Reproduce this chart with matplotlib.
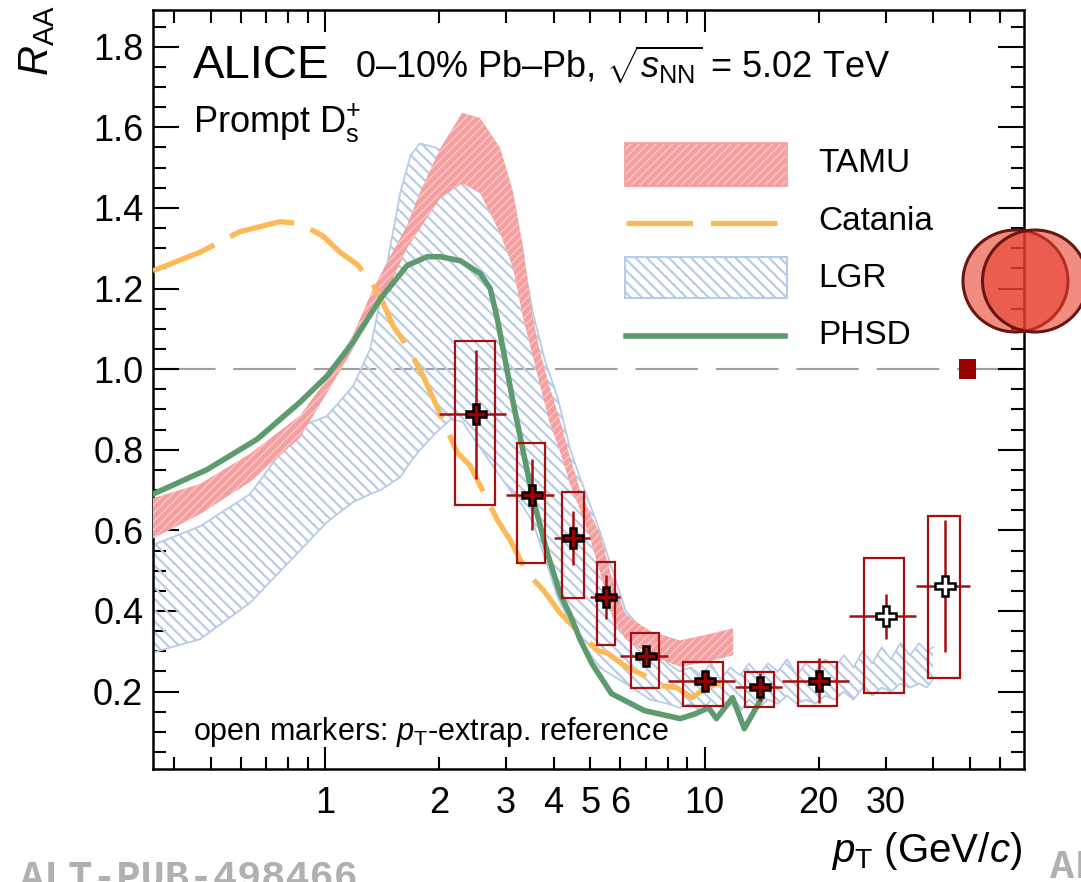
import matplotlib
matplotlib.use('Agg')
import matplotlib.pyplot as plt
from matplotlib.patches import Rectangle, Ellipse
from matplotlib.ticker import FixedLocator, FuncFormatter, MultipleLocator

plt.rcParams['font.family'] = ['Liberation Sans', 'DejaVu Sans']
plt.rcParams['mathtext.fontset'] = 'custom'
plt.rcParams['mathtext.rm'] = 'Liberation Sans'
plt.rcParams['mathtext.it'] = 'Liberation Sans:italic'
plt.rcParams['mathtext.bf'] = 'Liberation Sans:bold'

# ---- measured D_s+ R_AA, 0-10% Pb-Pb ----
pt_lo = [2, 3, 4, 5, 6, 8, 12, 16, 24, 36]
pt_hi = [3, 4, 5, 6, 8, 12, 16, 24, 36, 50]
pt_c = [2.5, 3.5, 4.5, 5.5, 7, 10, 14, 20, 30, 43]
raa = [0.888, 0.688, 0.581, 0.434, 0.289, 0.227, 0.212, 0.227, 0.387, 0.462]
raa_stat = [0.16, 0.088, 0.066, 0.055, 0.025, 0.02, 0.035, 0.056, 0.056, 0.164]
syst_up = [0.183, 0.129, 0.114, 0.087, 0.057, 0.047, 0.037, 0.047, 0.144, 0.174]
syst_dn = [0.226, 0.168, 0.149, 0.119, 0.079, 0.062, 0.049, 0.062, 0.191, 0.228]
extrap_ref = [False] * 8 + [True] * 2
norm_unc = 0.024

# ---- model curves ----
tamu_pt = [0.352, 0.468, 0.634, 0.859, 1.01, 1.185, 1.339, 1.484, 1.645, 1.781, 2.012,
           2.299, 2.564, 2.896, 3.13, 3.33, 3.53, 3.69, 3.9, 4.17, 4.44, 4.7, 4.94,
           5.29, 5.75, 6.2, 7.2, 8.6, 10.0, 11.9]
tamu_hi = [0.68, 0.715, 0.79, 0.885, 0.975, 1.085, 1.2, 1.28, 1.357, 1.44, 1.548,
           1.636, 1.623, 1.548, 1.44, 1.30, 1.125, 1.04, 0.958, 0.87, 0.776, 0.70, 0.65,
           0.594, 0.47, 0.39, 0.35, 0.327, 0.34, 0.357]
tamu_lo = [0.58, 0.64, 0.72, 0.83, 0.94, 1.05, 1.16, 1.21, 1.30, 1.35, 1.424,
           1.461, 1.436, 1.336, 1.25, 1.125, 1.03, 0.958, 0.87, 0.793, 0.71, 0.65, 0.594,
           0.50, 0.377, 0.33, 0.29, 0.262, 0.272, 0.29]

catania_pt = [0.352, 0.468, 0.596, 0.761, 0.859, 0.988, 1.095, 1.214, 1.315, 1.397,
              1.512, 1.645, 1.813, 1.986, 2.229, 2.414, 2.676, 2.844, 3.075, 3.407,
              3.76, 4.17, 4.697, 5.23, 5.551, 6.253, 6.937, 7.661, 8.429, 9.287,
              9.759, 10.75, 11.57, 12.14]
catania_raa = [1.244, 1.29, 1.341, 1.366, 1.361, 1.33, 1.29, 1.26, 1.22, 1.18,
               1.107, 1.057, 0.983, 0.9, 0.793, 0.76, 0.676, 0.626, 0.576, 0.494,
               0.452, 0.394, 0.345, 0.302, 0.295, 0.26, 0.24, 0.215, 0.21, 0.185,
               0.2, 0.22, 0.21, 0.2]

lgr_pt = [0.352, 0.468, 0.634, 0.859, 1.01, 1.185, 1.315, 1.40, 1.51, 1.58, 1.68,
          1.78, 1.95, 2.14, 2.30, 2.50, 2.72, 3.07, 3.33, 3.53, 3.80, 4.10, 4.43,
          4.70, 5.29, 6.2, 7.2,
          8.0, 8.6, 9.2, 9.8, 10.4, 11.0, 11.7, 12.4, 13.1, 13.9, 14.7, 15.6, 16.5,
          17.5, 18.5, 19.6, 20.8, 22.0, 23.3, 24.7, 26.1, 27.7, 29.3, 31.0, 32.8,
          34.8, 36.8, 38.5, 40.0]
lgr_hi = [0.564, 0.61, 0.69, 0.858, 0.883, 0.958, 1.05, 1.174, 1.34, 1.44, 1.53,
          1.56, 1.55, 1.53, 1.51, 1.48, 1.44, 1.36, 1.27, 1.14, 1.02, 0.93, 0.80,
          0.73, 0.60, 0.40, 0.33,
          0.27, 0.25, 0.26, 0.24, 0.27, 0.23, 0.26, 0.24, 0.27, 0.24, 0.27, 0.25,
          0.28, 0.24, 0.27, 0.25, 0.28, 0.26, 0.29, 0.26, 0.30, 0.27, 0.31, 0.28,
          0.32, 0.29, 0.32, 0.30, 0.31]
lgr_lo = [0.297, 0.33, 0.42, 0.55, 0.62, 0.67, 0.69, 0.70, 0.72, 0.733, 0.77,
          0.80, 0.84, 0.875, 0.87, 0.82, 0.77, 0.70, 0.659, 0.62, 0.53, 0.434, 0.37,
          0.33, 0.26, 0.22, 0.18,
          0.17, 0.16, 0.17, 0.15, 0.18, 0.16, 0.17, 0.15, 0.18, 0.16, 0.18, 0.17,
          0.19, 0.17, 0.18, 0.17, 0.19, 0.18, 0.20, 0.18, 0.21, 0.19, 0.21, 0.20,
          0.22, 0.21, 0.22, 0.21, 0.23]

phsd_pt = [0.352, 0.489, 0.662, 0.859, 1.012, 1.185, 1.397, 1.645, 1.858, 2.012,
           2.272, 2.564, 2.724, 2.844, 3.13, 3.513, 3.852, 4.17, 4.426, 4.697, 5.046,
           5.685, 6.937, 8.628, 9.461, 10.25, 10.75, 11.86, 12.73, 14.03]
phsd_raa = [0.69, 0.751, 0.826, 0.918, 0.983, 1.067, 1.174, 1.257, 1.279, 1.279,
            1.269, 1.237, 1.2, 1.125, 0.918, 0.688, 0.544, 0.44, 0.39, 0.33, 0.27,
            0.195, 0.153, 0.133, 0.145, 0.16, 0.133, 0.185, 0.108, 0.178]

xtick_labels = [1, 2, 3, 4, 5, 6, 10, 20, 30]

c_tamu = '#f5a0a0'
c_tamu_hatch = '#fbd0d0'
c_catania = '#fdb957'
c_lgr = '#b8cce8'
c_phsd = '#5d9b6f'
c_data = '#a50f0f'

fig = plt.figure(figsize=(10.81, 8.82), dpi=100)
ax = fig.add_axes([0.14154, 0.12812, 0.80574, 0.86054])
ax.set_xscale('log')
ax.set_xlim(0.352, 69.5)
ax.set_ylim(0.008, 1.891)

ax.axhline(1.0, color='#a0a0a0', lw=1.5, ls=(0, (30, 8.6)), zorder=1)

# LGR band: hatch only, light blue outline
with plt.rc_context({'hatch.linewidth': 1.6}):
    ax.fill_between(lgr_pt, lgr_lo, lgr_hi, facecolor='none', edgecolor=c_lgr,
                    hatch='\\\\\\', linewidth=0, zorder=2)
ax.plot(lgr_pt, lgr_hi, color=c_lgr, lw=1.3, zorder=2)
ax.plot(lgr_pt, lgr_lo, color=c_lgr, lw=1.3, zorder=2)

# TAMU band: filled with fine light hatch
with plt.rc_context({'hatch.linewidth': 0.8}):
    ax.fill_between(tamu_pt, tamu_lo, tamu_hi, facecolor=c_tamu, edgecolor=c_tamu_hatch,
                    hatch='////', linewidth=0, zorder=3)

ax.plot(catania_pt, catania_raa, color=c_catania, lw=3.8, ls=(0, (12.6, 3.4)),
        dash_capstyle='butt', zorder=4)
ax.plot(phsd_pt, phsd_raa, color=c_phsd, lw=4.0, zorder=5)

# data: syst boxes, stat bars, markers
for lo, hi, c, r, su, sd in zip(pt_lo, pt_hi, pt_c, raa, syst_up, syst_dn):
    hw = 0.3 * (hi - lo)
    ax.add_patch(Rectangle((c - hw, r - sd), 2 * hw, su + sd, fill=False,
                           edgecolor=c_data, lw=1.6, zorder=6))
xerr = [[c - lo for c, lo in zip(pt_c, pt_lo)], [hi - c for c, hi in zip(pt_c, pt_hi)]]
ax.errorbar(pt_c, raa, xerr=xerr, yerr=raa_stat, fmt='none', ecolor=c_data,
            elinewidth=1.8, capsize=0, zorder=7)
for c, r, ext in zip(pt_c, raa, extrap_ref):
    ax.plot(c, r, marker='P', ms=15, mfc='white' if ext else '#990000',
            mec='black', mew=1.8, zorder=8)

ax.add_patch(Rectangle((46.9, 1 - norm_unc), 5.0, 2 * norm_unc, facecolor='#990000',
                       edgecolor='none', zorder=8))

# axes styling
for sp in ax.spines.values():
    sp.set_linewidth(1.8)
ax.tick_params(which='both', direction='in', top=True, right=True, width=1.5,
               labelsize=26, colors='black')
ax.tick_params(axis='x', which='major', length=16, pad=12)
ax.tick_params(axis='x', which='minor', length=9, pad=12, labelsize=26)
ax.tick_params(axis='y', which='major', length=19, pad=7)
ax.tick_params(axis='y', which='minor', length=9.5)

ax.xaxis.set_major_locator(FixedLocator([1, 10]))
minor = [m * d for d in (0.1, 1, 10) for m in range(2, 10) if 0.352 <= m * d <= 69.5]
ax.xaxis.set_minor_locator(FixedLocator(minor))
lab = lambda v, _: ('%g' % v) if any(abs(v - t) < 1e-6 for t in xtick_labels) else ''
ax.xaxis.set_major_formatter(FuncFormatter(lab))
ax.xaxis.set_minor_formatter(FuncFormatter(lab))
ax.yaxis.set_major_locator(MultipleLocator(0.2))
ax.yaxis.set_minor_locator(MultipleLocator(0.05))
ax.yaxis.set_major_formatter(FuncFormatter(lambda v, _: '%.1f' % v))

ax.set_ylabel(r'$R_{\rm AA}$', fontsize=30, ha='right', va='center', rotation=90)
ax.yaxis.set_label_coords(-0.133, 1.006)
ax.set_xlabel(r'$p_{\rm T}$ (GeV/$c$)', fontsize=29, ha='right', va='baseline')
ax.xaxis.set_label_coords(0.998, -0.1225)

# header texts
ax.text(0.0459, 0.9104, 'ALICE', fontsize=34, transform=ax.transAxes, va='baseline')
ax.text(0.2319, 0.9104, r'0–10% Pb–Pb, $\sqrt{s_{\rm NN}}$ = 5.02 TeV', fontsize=26,
        transform=ax.transAxes, va='baseline')
ax.text(0.0459, 0.839, r'Prompt $\mathrm{D}_{\rm s}^{+}$', fontsize=26,
        transform=ax.transAxes, va='baseline')
ax.text(0.0459, 0.0382, r'open markers: $p_{\rm T}$-extrap. reference', fontsize=22,
        transform=ax.transAxes, va='baseline')

# legend
tr = ax.transAxes
with plt.rc_context({'hatch.linewidth': 0.8}):
    ax.add_patch(Rectangle((0.5419, 0.7681), 0.186, 0.0567, transform=tr, facecolor=c_tamu,
                           edgecolor=c_tamu_hatch, hatch='////', lw=0, zorder=9))
ax.add_patch(Rectangle((0.5419, 0.7681), 0.186, 0.0567, transform=tr, fill=False,
                       edgecolor=c_tamu, lw=1.3, zorder=9))
ax.plot([0.5430, 0.7176], [0.7194, 0.7194], transform=tr, color=c_catania, lw=3.8,
        ls=(0, (12.6, 3.4)), dash_capstyle='butt', zorder=9)
with plt.rc_context({'hatch.linewidth': 1.6}):
    ax.add_patch(Rectangle((0.5419, 0.6206), 0.186, 0.054, transform=tr, facecolor='none',
                           edgecolor=c_lgr, hatch='\\\\\\', lw=0, zorder=9))
ax.add_patch(Rectangle((0.5419, 0.6206), 0.186, 0.054, transform=tr, fill=False,
                       edgecolor=c_lgr, lw=1.5, zorder=9))
ax.plot([0.5430, 0.7256], [0.5705, 0.5705], transform=tr, color=c_phsd, lw=4.0, zorder=9)
for y, name in zip([0.7984, 0.7207, 0.6469, 0.5705], ['TAMU', 'Catania', 'LGR', 'PHSD']):
    ax.text(0.7635, y, name, fontsize=24, transform=tr, va='center')

# neighbouring panel pieces at the edge
for cx in (1015.5, 1035.0):
    fig.add_artist(Ellipse((cx / 1081, 1 - 281 / 882), 105 / 1081, 102 / 882,
                           transform=fig.transFigure, facecolor=(0.91, 0.25, 0.18, 0.6),
                           edgecolor='#6b1510', lw=2.2, zorder=10))
fig.text(20 / 1081, -7 / 882, 'ALT-PUB-498466', family='Liberation Mono', weight='bold',
         color='#b0b0b0', fontsize=29, va='baseline')
fig.text(1050 / 1081, 4 / 882, 'ALT-PUB-498466', family='Liberation Mono', weight='bold',
         color='#b0b0b0', fontsize=29, va='baseline')

fig.savefig('out.png', dpi=100)
